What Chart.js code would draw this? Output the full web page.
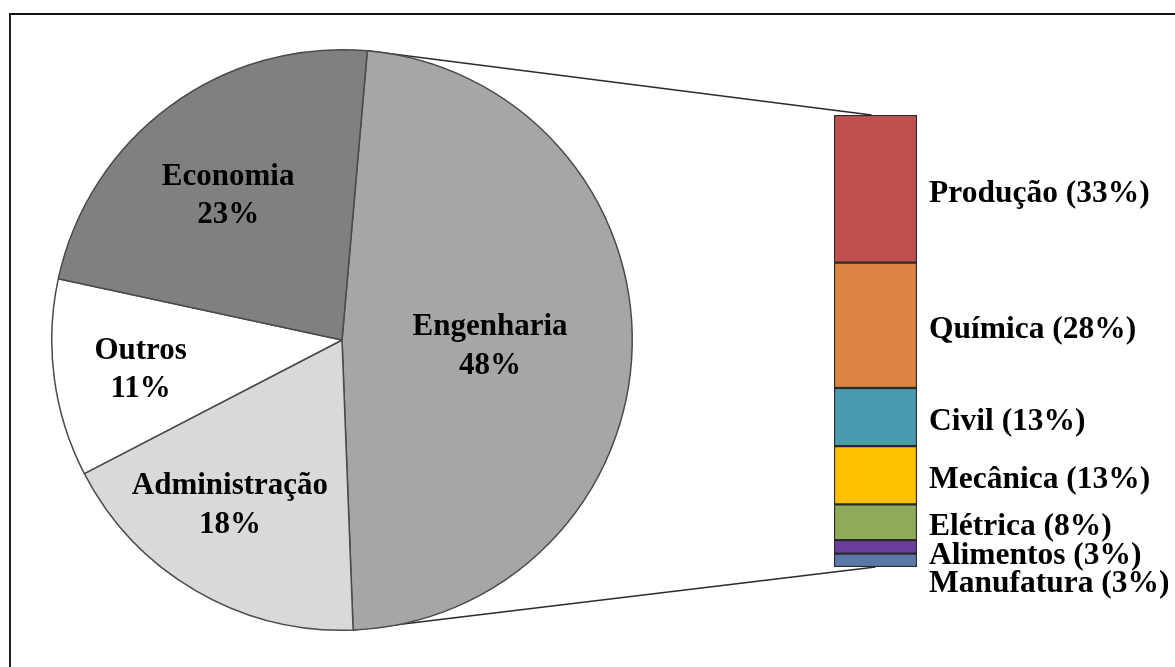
<!DOCTYPE html>
<html>
<head>
<meta charset="utf-8">
<script src="https://cdn.jsdelivr.net/npm/chart.js@4.4.1/dist/chart.umd.min.js"></script>
<style>
  html, body { margin: 0; padding: 0; background: #ffffff; }
  #wrap { position: relative; width: 1175px; height: 667px; overflow: hidden; background: #fff; }
  canvas { position: absolute; }
  #frameTop { position: absolute; left: 9px; top: 13px; width: 1166px; height: 2px; background: #111; }
  #frameLeft { position: absolute; left: 9px; top: 13px; width: 2px; height: 654px; background: #222; }
</style>
</head>
<body>
<div id="wrap">
  <div id="frameTop"></div>
  <div id="frameLeft"></div>
  <canvas id="links" width="1175" height="667" style="left:0;top:0;"></canvas>
  <canvas id="pie" width="586" height="586" style="left:49px;top:47px;"></canvas>
  <canvas id="bar" width="375" height="667" style="left:800px;top:0px;"></canvas>
</div>
<script>
// ---- data ----
const pieLabels = ['Engenharia', 'Administração', 'Outros', 'Economia'];
const pieValues = [48, 18, 11, 23];
const engLabels = ['Produção', 'Química', 'Civil', 'Mecânica', 'Elétrica', 'Alimentos', 'Manufatura'];
const engValues = [33, 28, 13, 13, 8, 3, 3];

// ---- styles ----
const pieColors = ['#a6a6a6', '#d9d9d9', '#ffffff', '#808080'];
const engColors = ['#c0504d', '#dd8442', '#4a9bb0', '#ffc000', '#8fab57', '#6a3c9c', '#5b78a8'];
const serif = "'Liberation Serif', 'Times New Roman', serif";

Chart.defaults.animation = false;
Chart.defaults.events = [];

const pieLabelPlugin = {
  id: 'pieLabels',
  afterDatasetsDraw(chart, args, opts) {
    const ctx = chart.ctx;
    const meta = chart.getDatasetMeta(0);
    ctx.save();
    ctx.fillStyle = '#000';
    ctx.font = 'bold 31px ' + serif;
    ctx.textAlign = 'center';
    ctx.textBaseline = 'middle';
    meta.data.forEach((arc, i) => {
      const mid = (arc.startAngle + arc.endAngle) / 2 + opts.angleShift[i] * Math.PI / 180;
      const r = arc.outerRadius * opts.radius[i];
      const x = arc.x + Math.cos(mid) * r;
      const y = arc.y + Math.sin(mid) * r + 3;
      const lh = 38.5;
      ctx.fillText(pieLabels[i], x, y - lh / 2);
      ctx.fillText(pieValues[i] + '%', x, y + lh / 2);
    });
    ctx.restore();
  }
};

const pieChart = new Chart(document.getElementById('pie'), {
  type: 'pie',
  data: {
    labels: pieLabels,
    datasets: [{
      data: pieValues,
      backgroundColor: pieColors,
      borderColor: '#4a4a4a',
      borderWidth: 1.5,
      hoverOffset: 0,
      offset: 0
    }]
  },
  options: {
    responsive: false,
    devicePixelRatio: 1,
    rotation: 5,
    layout: { padding: 2 },
    plugins: {
      legend: { display: false },
      tooltip: { enabled: false },
      pieLabels: { radius: [0.51, 0.68, 0.70, 0.64], angleShift: [0, 4.4, 0, -1.4] }
    }
  },
  plugins: [pieLabelPlugin]
});

const barLabelPlugin = {
  id: 'barLabels',
  afterDatasetsDraw(chart) {
    const ctx = chart.ctx;
    const n = engLabels.length;
    // datasets are stored bottom-up; walk top-down
    let prev = -Infinity;
    ctx.save();
    ctx.fillStyle = '#000';
    ctx.font = 'bold 31.5px ' + serif;
    ctx.textAlign = 'left';
    ctx.textBaseline = 'middle';
    for (let k = 0; k < n; k++) {
      const dsIndex = n - 1 - k;
      const el = chart.getDatasetMeta(dsIndex).data[0];
      const mid = (el.y + el.base) / 2 + 5;
      const y = Math.max(mid, prev + 28.5);
      prev = y;
      const x = chart.chartArea.right + 12;
      ctx.fillText(engLabels[k] + ' (' + engValues[k] + '%)', x, y);
    }
    ctx.restore();
  }
};

const total = engValues.reduce((a, b) => a + b, 0);
const barDatasets = engLabels.map((lab, i) => ({
  label: lab,
  data: [engValues[i]],
  backgroundColor: engColors[i],
  borderColor: '#2a2a2a',
  borderWidth: 1.5,
  borderSkipped: false,
  barPercentage: 1,
  categoryPercentage: 1
})).reverse();

const barChart = new Chart(document.getElementById('bar'), {
  type: 'bar',
  data: { labels: ['Engenharia'], datasets: barDatasets },
  options: {
    responsive: false,
    devicePixelRatio: 1,
    layout: { padding: { top: 115, bottom: 100, left: 34, right: 258 } },
    scales: {
      x: { display: false, stacked: true },
      y: { display: false, stacked: true, min: 0, max: total }
    },
    plugins: { legend: { display: false }, tooltip: { enabled: false } }
  },
  plugins: [barLabelPlugin]
});

// ---- connector lines between pie slice and bar ----
(function drawLinks() {
  const lc = document.getElementById('links').getContext('2d');
  const pieCanvas = document.getElementById('pie');
  const barCanvas = document.getElementById('bar');
  const px = pieCanvas.offsetLeft, py = pieCanvas.offsetTop;
  const bx = barCanvas.offsetLeft, by = barCanvas.offsetTop;
  const arc = pieChart.getDatasetMeta(0).data[0];
  const p1 = [px + arc.x + Math.cos(arc.startAngle) * arc.outerRadius, py + arc.y + Math.sin(arc.startAngle) * arc.outerRadius];
  const p2 = [px + arc.x + Math.cos(arc.endAngle) * arc.outerRadius, py + arc.y + Math.sin(arc.endAngle) * arc.outerRadius];
  const topEl = barChart.getDatasetMeta(barDatasets.length - 1).data[0];
  const botEl = barChart.getDatasetMeta(0).data[0];
  const q1 = [bx + topEl.x - 4, by + topEl.y];
  const q2 = [bx + botEl.x, by + botEl.base];
  lc.strokeStyle = '#2a2a2a';
  lc.lineWidth = 1.5;
  lc.beginPath();
  lc.moveTo(p1[0], p1[1]); lc.lineTo(q1[0], q1[1]);
  lc.moveTo(p2[0], p2[1]); lc.lineTo(q2[0], q2[1]);
  lc.stroke();
})();
</script>
</body>
</html>
